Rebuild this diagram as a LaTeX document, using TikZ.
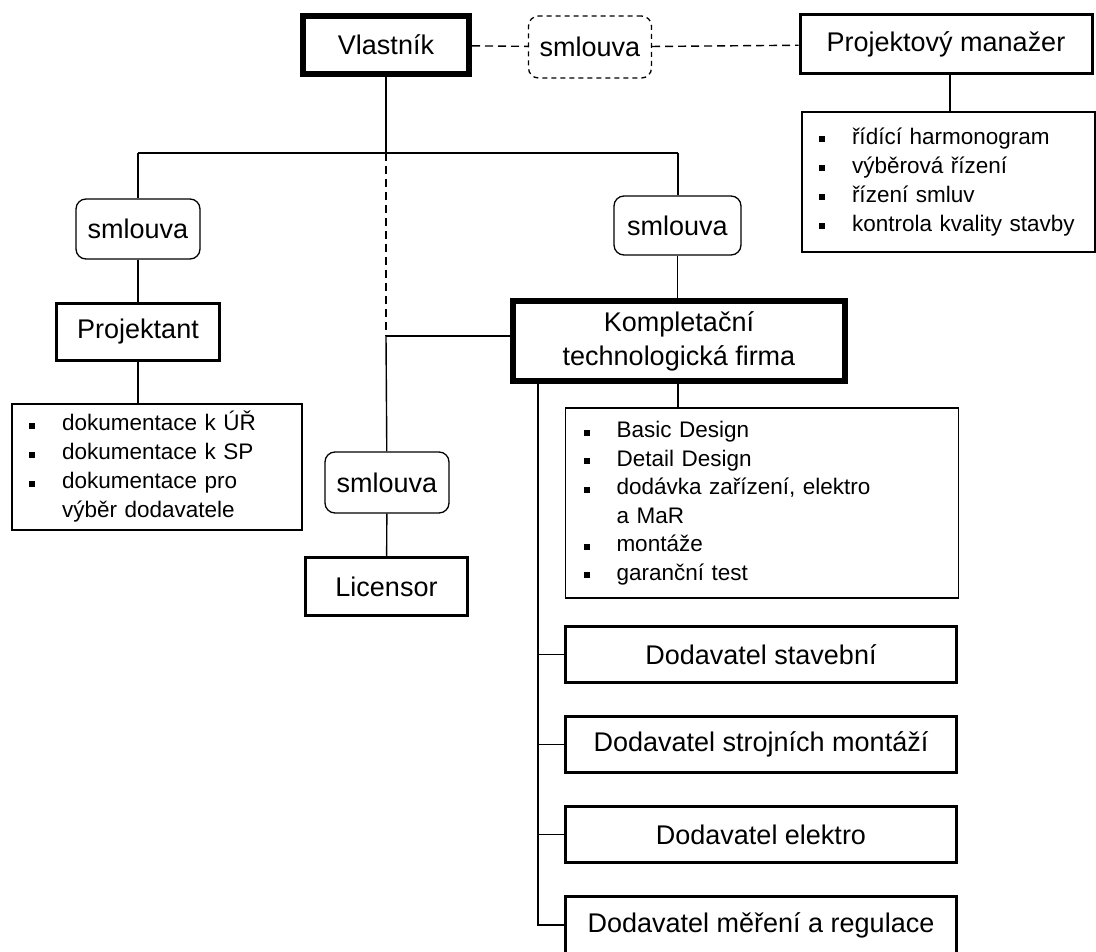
\documentclass[tikz,border=0pt]{standalone}
\usepackage{fontspec}
\setmainfont{Liberation Sans}
\usepackage{xcolor}
\usetikzlibrary{positioning, arrows.meta}

\newcommand{\bul}{\makebox[33pt][l]{\rule[2pt]{6pt}{6pt}}}
\newcommand{\cont}{\hspace*{33pt}}

\tikzset{
  party/.style={draw=black, line width=3.2pt, inner sep=0pt,
    font=\fontsize{27}{34}\selectfont},
  mainparty/.style={party, line width=6pt},
  contract/.style={draw=black, line width=1.3pt, rounded corners=10pt, inner sep=0pt,
    minimum width=124pt, minimum height=60pt, font=\fontsize{27}{34}\selectfont},
  tasklist/.style={draw=black, line width=1.3pt, inner xsep=17pt, inner ysep=0pt,
    align=left, font=\fontsize{22.5}{29}\selectfont},
  link/.style={line width=1.4pt, black},
  dlink/.style={link, dash pattern=on 8pt off 5pt},
}

\begin{document}
\begin{tikzpicture}[x=1pt, y=-1pt]
  \useasboundingbox (0,0) rectangle (1096,952);
  \clip (0,0) rectangle (1096,952);

  % top row
  \node[mainparty, minimum width=166pt, minimum height=58pt] (owner) at (386,45) {Vlastník};
  \node[contract, dash pattern=on 5pt off 4pt, minimum width=123pt, minimum height=62pt] (smTop) at (590,47) {smlouva};
  \node[party, line width=3pt, minimum width=292pt, minimum height=59pt] (pm) at (946,44) {Projektový manažer};
  \node[tasklist, text width=259pt, minimum height=140pt] (pmList) at (948.5,182)
    {\bul řídící harmonogram\\ \bul výběrová řízení\\ \bul řízení smluv\\ \bul kontrola kvality stavby};

  % left branch
  \node[contract] (smProj) at (138,229) {smlouva};
  \node[party, line width=3.5pt, minimum width=163pt, minimum height=57pt] (proj) at (138,332) {Projektant};
  \node[tasklist, text width=256pt, minimum height=126pt] (projList) at (157,467)
    {\bul dokumentace k ÚŘ\\ \bul dokumentace k SP\\ \bul dokumentace pro\\ \cont výběr dodavatele};

  % right branch
  \node[contract, minimum width=127pt, minimum height=59pt] (smKtf) at (677.5,225.5) {smlouva};
  \node[mainparty, align=center, minimum width=332pt, minimum height=80pt] (ktf) at (679,341)
    {Kompletační\\technologická firma};
  \node[tasklist, text width=357pt, minimum height=190pt, font=\fontsize{22.5}{28.5}\selectfont, inner xsep=18pt] (ktfList) at (762,503)
    {\bul Basic Design\\ \bul Detail Design\\ \bul dodávka zařízení, elektro\\ \cont a MaR\\ \bul montáže\\ \bul garanční test};

  % licensor
  \node[contract, minimum height=61pt] (smLic) at (387,482.5) {smlouva};
  \node[party, line width=3.5pt, minimum width=162pt, minimum height=58pt] (lic) at (386.5,586.5) {Licensor};

  % subcontractors
  \node[party, line width=3pt, minimum width=391pt, minimum height=56pt] (dStav) at (761,654.5) {Dodavatel stavební};
  \node[party, line width=3pt, minimum width=391pt, minimum height=56pt] (dStroj) at (761,744.5) {Dodavatel strojních montáží};
  \node[party, line width=3pt, minimum width=391pt, minimum height=56pt] (dElek) at (761,834.5) {Dodavatel elektro};
  \node[party, line width=3pt, minimum width=391pt, minimum height=57pt] (dMaR) at (761,925) {Dodavatel měření a regulace};

  % helper points
  \coordinate (busL) at (138,153);
  \coordinate (busM) at (386,153);
  \coordinate (busR) at (678,153);
  \coordinate (licJ) at (386,336);
  \coordinate (spine) at (538,384);

  % connectors
  \draw[dlink] (owner) -- (smTop);
  \draw[dlink] (smTop) -- (pm);
  \draw[link] (pm.south -| 950,0) -- (pmList.north -| 950,0);
  \draw[link] (owner) -- (busM);
  \draw[link] (busL) -- (busR);
  \draw[link] (busL) -- (smProj);
  \draw[link] (smProj) -- (proj);
  \draw[link] (proj) -- (proj |- projList.north);
  \draw[link] (busR) -- (busR |- smKtf.north);
  \draw[link] (smKtf) -- (smKtf |- ktf.north);
  \draw[dlink] (busM) -- (licJ);
  \draw[link] (licJ) -- (licJ -| ktf.west);
  \draw[link] (licJ) -- (smLic);
  \draw[link] (smLic) -- (lic);
  \draw[link] (ktf.south -| 678,0) -- (ktfList.north -| 678,0);
  \draw[link] (spine) |- (dMaR.west);
  \draw[link] (spine |- dStav.west) -- (dStav.west);
  \draw[link] (spine |- dStroj.west) -- (dStroj.west);
  \draw[link] (spine |- dElek.west) -- (dElek.west);
\end{tikzpicture}
\end{document}
